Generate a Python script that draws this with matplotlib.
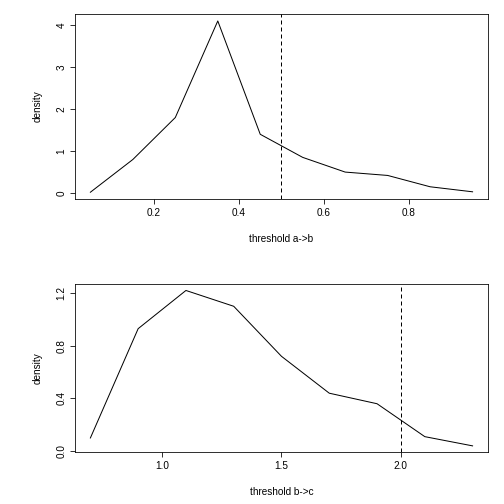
import numpy as np
import matplotlib
matplotlib.use('Agg')
import matplotlib.pyplot as plt

plt.rcParams['font.family'] = ['Liberation Sans', 'DejaVu Sans']
plt.rcParams['font.size'] = 10

ab_x = [0.05, 0.15, 0.25, 0.35, 0.45, 0.55, 0.65, 0.75, 0.85, 0.95]
ab_y = [0.02, 0.8, 1.8, 4.1, 1.4, 0.85, 0.5, 0.42, 0.15, 0.03]
ab_thr = 0.5

bc_x = [0.7, 0.9, 1.1, 1.3, 1.5, 1.7, 1.9, 2.1, 2.3]
bc_y = [0.1, 0.93, 1.22, 1.1, 0.72, 0.44, 0.36, 0.11, 0.04]
bc_thr = 2.0

fig = plt.figure(figsize=(7, 7), dpi=72)
ax1 = fig.add_axes([0.149, 0.605, 0.819, 0.367])
ax2 = fig.add_axes([0.149, 0.103, 0.819, 0.333])


def panel(ax, x, y, thr, xlabel, yticks, xticks, fmt):
    ax.plot(x, y, color='black', lw=1)
    ax.axvline(thr, color='black', lw=1, ls=(0, (4, 3)))
    xr = max(x) - min(x)
    yr = max(y) - min(y)
    ax.set_xlim(min(x) - 0.04 * xr, max(x) + 0.04 * xr)
    ax.set_ylim(min(y) - 0.04 * yr, max(y) + 0.04 * yr)
    ax.set_yticks(yticks)
    ax.set_yticklabels([fmt % v for v in yticks], rotation=90, va='center')
    ax.set_xticks(xticks)
    ax.set_xticklabels([('%.1f' % v) for v in xticks])
    ax.set_xlabel(xlabel, labelpad=16)
    ax.set_ylabel('density', labelpad=14)
    ax.tick_params(length=5)
    for s in ax.spines.values():
        s.set_linewidth(0.8)


panel(ax1, ab_x, ab_y, ab_thr, 'threshold a->b', [0, 1, 2, 3, 4],
      [0.2, 0.4, 0.6, 0.8], '%d')
panel(ax2, bc_x, bc_y, bc_thr, 'threshold b->c', [0.0, 0.4, 0.8, 1.2],
      [1.0, 1.5, 2.0], '%.1f')

fig.savefig('out.png', dpi=72)
